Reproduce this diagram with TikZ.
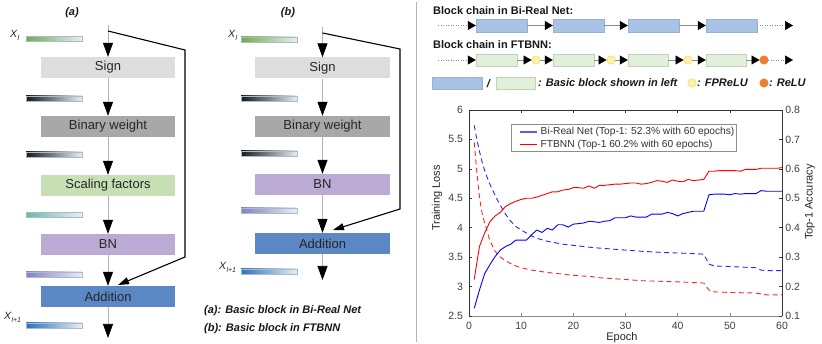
\documentclass[tikz,border=0pt]{standalone}
\usepackage{fontspec}
\setmainfont{Liberation Sans}
\usetikzlibrary{arrows.meta}
\definecolor{csign}{RGB}{221,221,221}
\definecolor{cbw}{RGB}{168,168,168}
\definecolor{csf}{RGB}{198,224,180}
\definecolor{cbn}{RGB}{187,170,212}
\definecolor{cadd}{RGB}{91,135,197}
\definecolor{cblk}{RGB}{168,194,230}
\definecolor{cblkb}{RGB}{150,178,220}
\definecolor{cgrn}{RGB}{226,239,218}
\definecolor{cgrnb}{RGB}{190,212,178}
\definecolor{cyel}{RGB}{255,242,160}
\definecolor{cyelb}{RGB}{225,212,120}
\definecolor{cora}{RGB}{237,125,49}
\definecolor{barend}{RGB}{232,238,242}
\definecolor{barbd}{RGB}{170,185,205}
\definecolor{bgreen}{RGB}{112,173,71}
\definecolor{bblack}{RGB}{25,25,25}
\definecolor{bteal}{RGB}{100,190,160}
\definecolor{blav}{RGB}{130,130,195}
\definecolor{bblue}{RGB}{40,115,185}
\definecolor{plred}{RGB}{255,0,0}
\definecolor{plblue}{RGB}{0,0,255}
\newcommand\xlab[1]{\textit{X}\raisebox{-3pt}{\fontsize{7}{7}\selectfont\textit{#1}}}
\begin{document}
\begin{tikzpicture}[x=1pt,y=-1pt,
  bigtip/.tip={Triangle[width=10pt,length=14pt,color=black]},
  skiptip/.tip={Triangle[width=7pt,length=11pt,color=black]},
  smalltip/.tip={Triangle[width=9pt,length=8pt,color=black]},
  blockbox/.style={rectangle, minimum width=134pt, minimum height=21pt, inner sep=0pt,
    font=\fontsize{13}{15}\selectfont, text=black!85},
  flowln/.style={draw=black!30, line width=0.7pt, -bigtip},
  skipline/.style={draw=black, line width=1.1pt, -skiptip},
  gbar/.style={left color=#1, right color=barend, draw=barbd, line width=0.4pt},
  xltxt/.style={font=\fontsize{10.5}{12}\selectfont, text=black!85, inner sep=0pt, anchor=base west},
  captxt/.style={font=\fontsize{11}{13}\selectfont\bfseries\itshape, text=black!90, inner sep=0pt},
  bluebox/.style={rectangle, fill=cblk, draw=cblkb, line width=0.4pt, minimum height=13pt, inner sep=0pt},
  greenbox/.style={rectangle, fill=cgrn, draw=cgrnb, line width=0.4pt, minimum height=12pt, inner sep=0pt},
  fpr/.style={circle, fill=cyel, draw=cyelb, line width=0.4pt, minimum size=8.5pt, inner sep=0pt},
  reludot/.style={circle, fill=cora, draw=cora, line width=0.4pt, minimum size=8.5pt, inner sep=0pt},
  chainln/.style={draw=black!45, line width=0.5pt, -smalltip},
  dchainln/.style={draw=black!45, line width=0.5pt, dotted},
  ticklab/.style={font=\fontsize{10.5}{12}\selectfont, text=black!75, inner sep=0pt},
  axlab/.style={font=\fontsize{11}{13}\selectfont, text=black!85, inner sep=0pt},
  legtxt/.style={font=\fontsize{10.2}{12}\selectfont, text=black!80, inner sep=0pt, anchor=west}
]
\useasboundingbox (0,0) rectangle (822,344);
\fill[white] (0,0) rectangle (822,344);

% ===================== panel (a) =====================
\node[captxt] (la) at (72,12.5) {(a)};
\node[blockbox, fill=csign] (signa) at (108,67.5) {Sign};
\node[blockbox, fill=cbw]   (bwa)   at (108,126.5) {Binary weight};
\node[blockbox, fill=csf]   (sfa)   at (108,185.5) {Scaling factors};
\node[blockbox, fill=cbn]   (bna)   at (108,244.5) {BN};
\node[blockbox, fill=cadd]  (adda)  at (108,296.5) {Addition};
\coordinate (topa) at (108,25);
\coordinate (bota) at (108,338);
\coordinate (sk0a) at (108,31);
\coordinate (sk1a) at (185,50);
\coordinate (sk2a) at (185,257);
\coordinate (sk3a) at (118,285);
\draw[flowln] (topa) -- (signa);
\draw[flowln] (signa) -- (bwa);
\draw[flowln] (bwa) -- (sfa);
\draw[flowln] (sfa) -- (bna);
\draw[flowln] (bna) -- (adda);
\draw[flowln] (adda) -- (bota);
\draw[skipline] (sk0a) -- (sk1a) -- (sk2a) -- (sk3a);
\path[gbar=bgreen] (26,36.5) rectangle (82,41.5);
\path[gbar=bblack] (26,96) rectangle (82,101);
\path[gbar=bblack] (26,152) rectangle (82,157);
\path[gbar=bteal]  (26,212.5) rectangle (82,217.5);
\path[gbar=blav]   (26,272) rectangle (82,277);
\path[gbar=bblue]  (26,323) rectangle (82,328);
\node[xltxt] (xla) at (10,38) {\xlab{l}};
\node[xltxt] (xl1a) at (4,319.5) {\xlab{l+1}};

% ===================== panel (b) =====================
\node[captxt] (lb) at (288,12.5) {(b)};
\node[blockbox, fill=csign, minimum width=135pt] (signb) at (322.5,68) {Sign};
\node[blockbox, fill=cbw, minimum width=135pt]   (bwb)   at (322.5,126.5) {Binary weight};
\node[blockbox, fill=cbn, minimum width=135pt]   (bnb)   at (322.5,184.5) {BN};
\node[blockbox, fill=cadd, minimum width=135pt]  (addb)  at (322.5,243.5) {Addition};
\coordinate (topb) at (322.5,27);
\coordinate (botb) at (322.5,280);
\coordinate (sk0b) at (322.5,33);
\coordinate (sk1b) at (400,49);
\coordinate (sk2b) at (400,209);
\coordinate (sk3b) at (333,230);
\draw[flowln] (topb) -- (signb);
\draw[flowln] (signb) -- (bwb);
\draw[flowln] (bwb) -- (bnb);
\draw[flowln] (bnb) -- (addb);
\draw[flowln] (addb) -- (botb);
\draw[skipline] (sk0b) -- (sk1b) -- (sk2b) -- (sk3b);
\path[gbar=bgreen] (241,37) rectangle (297,42);
\path[gbar=bblack] (241,96) rectangle (297,101);
\path[gbar=bblack] (241,151) rectangle (297,156);
\path[gbar=blav]   (241,208) rectangle (297,213);
\path[gbar=bblue]  (241,269) rectangle (297,274);
\node[xltxt] (xlb) at (228,37.5) {\xlab{l}};
\node[xltxt] (xl1b) at (219,270) {\xlab{l+1}};

\node[captxt, anchor=base west] (capa) at (204,314) {(a): Basic block in Bi-Real Net};
\node[captxt, anchor=base west] (capb) at (204,332) {(b): Basic block in FTBNN};

% separator
\draw[black!30, line width=0.8pt] (416,2) -- (416,342);

% ===================== block chains =====================
\node[captxt, font=\fontsize{11}{13}\selectfont\bfseries, anchor=base west] (t1) at (433,15) {Block chain in Bi-Real Net:};
\node[captxt, font=\fontsize{11}{13}\selectfont\bfseries, anchor=base west] (t2) at (433,49) {Block chain in FTBNN:};
\node[bluebox, minimum width=51pt] (b1) at (501.5,25.5) {};
\node[bluebox, minimum width=51pt] (b2) at (578.5,25.5) {};
\node[bluebox, minimum width=51pt] (b3) at (653.5,25.5) {};
\node[bluebox, minimum width=51pt] (b4) at (731.5,25.5) {};
\coordinate (s1) at (438,25.5);
\coordinate (e1) at (793,25.5);
\coordinate (m1) at (468,25.5);
\coordinate (n1) at (785,25.5);
\draw[dchainln] (s1) -- (m1);
\draw[chainln] (m1) -- (b1);
\draw[chainln] (b1) -- (b2);
\draw[chainln] (b2) -- (b3);
\draw[chainln] (b3) -- (b4);
\draw[dchainln] (b4) -- (n1);
\draw[chainln] (n1) -- (e1);

\node[greenbox, minimum width=41pt] (g1) at (496.5,60) {};
\node[greenbox, minimum width=41pt] (g2) at (573.5,60) {};
\node[greenbox, minimum width=40pt] (g3) at (648,60) {};
\node[greenbox, minimum width=40pt] (g4) at (726,60) {};
\node[fpr] (c1) at (536,60) {};
\node[fpr] (c2) at (611,60) {};
\node[fpr] (c3) at (688,60) {};
\node[reludot] (o1) at (764,60) {};
\coordinate (s2) at (438,60);
\coordinate (m2) at (468,60);
\coordinate (e2) at (793,60);
\coordinate (n2) at (785,60);
\draw[dchainln] (s2) -- (m2);
\draw[chainln] (m2) -- (g1);
\draw[chainln] (g1) -- (c1);
\draw[chainln] (c1) -- (g2);
\draw[chainln] (g2) -- (c2);
\draw[chainln] (c2) -- (g3);
\draw[chainln] (g3) -- (c3);
\draw[chainln] (c3) -- (g4);
\draw[chainln] (g4) -- (o1);
\draw[dchainln] (o1) -- (n2);
\draw[chainln] (n2) -- (e2);

\node[bluebox, minimum width=50pt, minimum height=12pt] (lb1) at (457,83) {};
\node[captxt] (sl) at (488.5,83.5) {/};
\node[greenbox, minimum width=39pt] (lg1) at (515.5,83) {};
\node[captxt, anchor=west] (lt1) at (538,83) {: Basic block shown in left};
\node[fpr] (lc1) at (692,83) {};
\node[captxt, anchor=west] (lt2) at (697,83) {: FPReLU};
\node[reludot] (lo1) at (764,83) {};
\node[captxt, anchor=west] (lt3) at (769,83) {: ReLU};

% ===================== chart =====================
\begin{scope}[shift={(469,316)}, x=5.217pt, y=58.86pt, shift={(0,-2.5)}]
  \draw[black!80, line width=0.5pt] (0,2.5) -- (0,6) -- (60,6) -- (60,2.5);
  \draw[black!45, line width=0.6pt] (0,2.5) -- (60,2.5);
  \foreach \e in {10,20,30,40,50} {
    \draw[black!45, line width=0.5pt] (\e,2.5) -- (\e,2.551);
    \draw[black!80, line width=0.5pt] (\e,6) -- (\e,5.949);
  }
  \foreach \i in {1,...,8} {
    \draw[black!80, line width=0.5pt] (0,{2+0.5*\i}) -- (0.575,{2+0.5*\i});
    \draw[black!80, line width=0.5pt] (60,{2+0.5*\i}) -- (59.425,{2+0.5*\i});
  }
  \foreach \v [count=\i] in {2.5,3,3.5,4,4.5,5,5.5,6}
    \node[ticklab, anchor=east] (yl\i) at (-1.1,{2+0.5*\i}) {\v};
  \foreach \v [count=\i] in {0.1,0.2,0.3,0.4,0.5,0.6,0.7,0.8}
    \node[ticklab, anchor=west] (yr\i) at (60.6,{2+0.5*\i}) {\v};
  \foreach \v [count=\i] in {0,10,20,30,40,50,60}
    \node[ticklab] (xt\i) at (\v,2.33) {\v};

  \draw[plblue!85, line width=0.9pt, dash pattern=on 5pt off 3.5pt] plot coordinates {
    (1,5.74)(1.5,5.50)(2,5.30)(2.5,5.12)(3,4.97)(3.5,4.85)(4,4.74)(5,4.55)(6,4.38)(7,4.23)(8,4.11)(9,4.02)(10,3.96)(11,3.91)(12,3.86)(13,3.82)(15,3.77)(18,3.72)(20,3.70)(24,3.66)(27,3.64)(30,3.62)(33,3.60)(37,3.58)(40,3.57)(43,3.56)(45,3.55)(46,3.38)(47,3.35)(50,3.34)(55,3.32)(56,3.28)(57,3.27)(60,3.27)};
  \draw[plred!85, line width=0.9pt, dash pattern=on 5pt off 3.5pt] plot coordinates {
    (1,5.45)(1.5,4.95)(2,4.52)(2.5,4.25)(3,4.08)(3.5,3.93)(4,3.78)(5,3.60)(6,3.50)(7,3.44)(8,3.39)(9,3.35)(10,3.32)(12,3.28)(15,3.24)(17,3.22)(20,3.19)(23.5,3.17)(25,3.15)(30,3.12)(33,3.10)(40,3.08)(45,3.06)(46,2.94)(47,2.91)(50,2.90)(55,2.89)(57,2.86)(60,2.86)};
  \draw[plblue, line width=0.9pt, line join=round] plot coordinates {
    (1,2.63)(2,2.94)(3,3.22)(4,3.37)(5,3.51)(6,3.62)(7,3.68)(8,3.72)(9,3.79)(10,3.79)(11,3.79)(12,3.88)(13,3.96)(14,3.92)(15,3.99)(16,3.96)(17,4.05)(18,4.05)(19,4.01)(20,4.06)(21,4.07)(22,4.08)(23,4.11)(24,4.10)(25,4.09)(26,4.11)(27,4.12)(28,4.17)(29,4.17)(30,4.17)(31,4.20)(32,4.18)(33,4.18)(34,4.18)(35,4.23)(36,4.23)(37,4.23)(38,4.26)(39,4.24)(40,4.20)(41,4.24)(42,4.26)(43,4.28)(44,4.28)(45,4.28)(46,4.56)(47,4.57)(48,4.57)(49,4.57)(50,4.56)(51,4.58)(52,4.57)(53,4.58)(54,4.58)(55,4.58)(56,4.63)(57,4.62)(58,4.62)(59,4.62)(60,4.62)};
  \draw[plred, line width=0.9pt, line join=round] plot coordinates {
    (1,3.12)(2,3.68)(3,3.91)(4,4.10)(5,4.20)(6,4.26)(7,4.36)(8,4.41)(9,4.45)(10,4.48)(11,4.50)(12,4.50)(13,4.52)(14,4.55)(15,4.58)(16,4.61)(17,4.61)(18,4.64)(19,4.65)(20,4.68)(21,4.68)(22,4.67)(23,4.71)(24,4.67)(25,4.72)(26,4.72)(27,4.73)(28,4.74)(29,4.74)(30,4.75)(31,4.76)(32,4.76)(33,4.74)(34,4.75)(35,4.77)(36,4.80)(37,4.79)(38,4.77)(39,4.81)(40,4.79)(41,4.78)(42,4.82)(43,4.80)(44,4.81)(45,4.82)(46,4.96)(47,4.96)(48,4.97)(49,4.97)(50,4.97)(51,4.97)(52,4.96)(53,4.99)(54,4.99)(55,4.99)(56,5.01)(57,5.01)(58,5.01)(59,5.01)(60,5.02)};
\end{scope}

\draw[black!45, fill=white, line width=0.5pt] (511,124) rectangle (736,151);
\draw[plblue!65, line width=1.4pt] (520,132) -- (537,132);
\draw[plred, line width=1pt] (520,145) -- (537,145);
\node[legtxt] (leg1) at (540.5,132) {Bi-Real Net (Top-1: 52.3\% with 60 epochs)};
\node[legtxt] (leg2) at (540.5,145) {FTBNN (Top-1 60.2\% with 60 epochs)};

\node[axlab, rotate=90] (ylab) at (437,198) {Training Loss};
\node[axlab, rotate=90] (yrlab) at (810,202) {Top-1 Accuracy};
\node[axlab] (xlab) at (622,338) {Epoch};
\end{tikzpicture}
\end{document}
